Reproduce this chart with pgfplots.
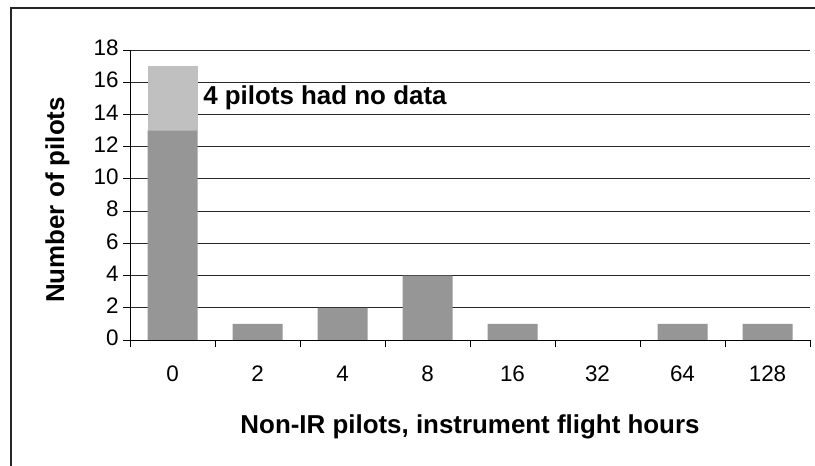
\documentclass[border=0pt]{standalone}
\usepackage{fontspec}
\setmainfont{Liberation Sans}
\usepackage{pgfplots}
\pgfplotsset{compat=1.18}
\definecolor{bardark}{HTML}{969696}
\definecolor{barlight}{HTML}{C0C0C0}
\newcommand{\tickfont}{\fontsize{22.5}{27}\selectfont}
\begin{document}
\begin{tikzpicture}
\useasboundingbox (0,0) rectangle (815bp,466bp);
\fill[white] (0,0) rectangle (815bp,466bp);
\draw[line width=1.4bp, black!85] (11bp,0) -- (11bp,458bp) -- (815bp,458bp);
\begin{axis}[
  at={(130bp,126bp)}, anchor=south west,
  scale only axis, width=680bp, height=290bp,
  ybar stacked, bar width=50bp,
  xmin=-0.5, xmax=7.5, ymin=0, ymax=18,
  enlargelimits=false,
  axis lines=left, axis line style={-, black, line width=0.8bp},
  ytick={0,2,4,6,8,10,12,14,16,18},
  yticklabels={{\tickfont 0},{\tickfont 2},{\tickfont 4},{\tickfont 6},{\tickfont 8},{\tickfont 10},{\tickfont 12},{\tickfont 14},{\tickfont 16},{\tickfont 18}},
  xtick={0,...,7},
  xticklabels={{\tickfont 0},{\tickfont 2},{\tickfont 4},{\tickfont 8},{\tickfont 16},{\tickfont 32},{\tickfont 64},{\tickfont 128}},
  major x tick style={draw=none},
  minor xtick={-0.5,0.5,...,7.5},
  tick align=outside,
  major tick length=7bp, minor tick length=7bp,
  tick style={black, line width=0.8bp},
  ymajorgrids, grid style={black!85, line width=0.8bp},
  yticklabel style={font=\tickfont, anchor=east, xshift=-1bp, yshift=2bp},
  xticklabel style={font=\tickfont, yshift=-15.5bp},
  xlabel={Non-IR pilots, instrument flight hours},
  ylabel={Number of pilots},
  label style={font=\bfseries\fontsize{26}{31}\selectfont},
  xlabel style={at={([yshift=-93bp]axis description cs:0.5,0)}, anchor=base},
  ylabel style={at={([xshift=-72.5bp]axis description cs:0,0.483)}, anchor=center},
]
\addplot[fill=bardark, draw=none] coordinates {(0,13)(1,1)(2,2)(3,4)(4,1)(5,0)(6,1)(7,1)};
\addplot[fill=barlight, draw=none] coordinates {(0,4)(1,0)(2,0)(3,0)(4,0)(5,0)(6,0)(7,0)};
\node[anchor=base west, font=\bfseries\fontsize{26}{31}\selectfont, inner sep=0pt] at (axis cs:0.36,14.59) {4 pilots had no data};
\end{axis}
\end{tikzpicture}
\end{document}
